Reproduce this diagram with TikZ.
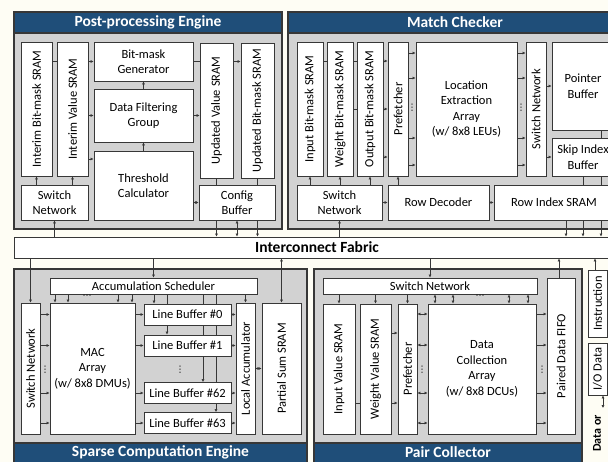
\documentclass[tikz,border=0pt]{standalone}
\usepackage{fontspec}
\setmainfont{Carlito}
\newfontfamily\dotfont{DejaVu Sans}
\usetikzlibrary{arrows.meta}
\definecolor{titleblue}{RGB}{31,78,121}
\definecolor{panelfill}{RGB}{210,210,210}
\definecolor{lineclr}{RGB}{55,55,55}
\definecolor{paper}{RGB}{254,253,244}
\pgfdeclarelayer{back}
\pgfdeclarelayer{wires}
\pgfsetlayers{back,wires,main}

\begin{document}
\begin{tikzpicture}[x=1pt,y=-1pt,
  >={Latex[length=3pt,width=3.2pt]},
  font=\fontsize{12.5}{15.5}\selectfont,
  box/.style={draw=lineclr, line width=0.9pt, fill=white, inner sep=1pt, align=center},
  vtext/.style={label={[rotate=90,inner sep=0pt]center:#1}},
  panel/.style={draw=lineclr, line width=1.2pt, fill=panelfill},
  bar/.style={draw=lineclr, line width=1.2pt, fill=titleblue},
  title/.style={text=white, font=\fontsize{15.5}{18}\selectfont\bfseries, inner sep=0pt},
  wire/.style={draw=lineclr, line width=0.8pt},
  dotv/.style={font=\dotfont\fontsize{9}{9}\selectfont, inner sep=0pt}]
\useasboundingbox (0,0) rectangle (608,462);

% panels
\begin{pgfonlayer}{back}
\fill[paper] (0,0) rectangle (608,462);
\draw[panel] (14,12) rectangle (282,229);
\draw[bar] (14,12) rectangle (282,33);
\draw[panel] (288,12) rectangle (622,229);
\draw[bar] (288,12) rectangle (622,33);
\draw[panel] (14,269) rectangle (307,470);
\draw[bar] (14,443) rectangle (307,470);
\draw[panel] (314,269) rectangle (582,470);
\draw[bar] (314,443) rectangle (582,470);
\end{pgfonlayer}
\node[title] (tppe) at (148,22.5) {Post-processing Engine};
\node[title] (tmc) at (455,22.5) {Match Checker};
\node[title] (tsce) at (160.5,452.5) {Sparse Computation Engine};
\node[title] (tpc) at (448,452.5) {Pair Collector};

\node[box, minimum width=606pt, minimum height=21pt, font=\fontsize{15.5}{18}\selectfont\bfseries] (icf) at (317,247.5) {Interconnect Fabric};

% post-processing engine
\node[box, minimum width=31pt, minimum height=134pt, vtext={Interim Bit-mask SRAM}] (ibm) at (36.5,109) {};
\node[box, minimum width=31pt, minimum height=134pt, vtext={Interim Value SRAM}] (ivs) at (72.5,109) {};
\node[box, minimum width=99pt, minimum height=39pt] (bmg) at (143.5,61.5) {Bit-mask\\Generator};
\node[box, minimum width=99pt, minimum height=53pt] (dfg) at (143.5,115.5) {Data Filtering\\Group};
\node[box, minimum width=99pt, minimum height=69pt] (thr) at (143.5,185.5) {Threshold\\Calculator};
\node[box, minimum width=33pt, minimum height=135pt, vtext={Updated Value SRAM}] (uvs) at (216.5,110.5) {};
\node[box, minimum width=33pt, minimum height=135pt, vtext={Updated Bit-mask SRAM}] (ubs) at (257.5,110.5) {};
\node[box, minimum width=67pt, minimum height=35pt] (psw) at (54.5,202.5) {Switch\\Network};
\node[box, minimum width=76pt, minimum height=35pt] (cfg) at (237,202.5) {Config\\Buffer};

% match checker
\node[box, minimum width=26pt, minimum height=134pt, vtext={Input Bit-mask SRAM}] (ibk) at (310,109) {};
\node[box, minimum width=26pt, minimum height=134pt, vtext={Weight Bit-mask SRAM}] (wbk) at (340,109) {};
\node[box, minimum width=26pt, minimum height=134pt, vtext={Output Bit-mask SRAM}] (obk) at (370,109) {};
\node[box, minimum width=20pt, minimum height=134pt, vtext={Prefetcher}] (mpf) at (398,109) {};
\node[box, minimum width=101pt, minimum height=134pt] (lea) at (466.5,109) {Location\\Extraction\\Array\\(w/ 8x8 LEUs)};
\node[box, minimum width=20pt, minimum height=134pt, vtext={Switch Network}] (msw) at (536,109) {};
\node[box, minimum width=62pt, minimum height=88pt] (ptr) at (583,86) {Pointer\\Buffer};
\node[box, minimum width=62pt, minimum height=38pt] (skp) at (583,157) {Skip Index\\Buffer};
\node[box, minimum width=85pt, minimum height=35pt] (msn) at (339.5,202.5) {Switch\\Network};
\node[box, minimum width=101pt, minimum height=35pt] (rdc) at (438.5,202.5) {Row Decoder};
\node[box, minimum width=120pt, minimum height=35pt] (ris) at (554,202.5) {Row Index SRAM};
\node[dotv] (mdl) at (412,108) {⋮};
\node[dotv] (mdr) at (521,108) {⋮};

% sparse computation engine
\node[box, minimum width=207pt, minimum height=16pt, inner sep=0pt] (acs) at (153.5,286) {Accumulation Scheduler};
\node[box, minimum width=19pt, minimum height=131pt, vtext={Switch Network}] (ssw) at (30.5,368.5) {};
\node[box, minimum width=85pt, minimum height=131pt] (mac) at (92.5,368.5) {MAC\\Array\\(w/ 8x8 DMUs)};
\node[box, minimum width=87pt, minimum height=21pt] (lb0) at (187.5,314.5) {Line Buffer \#0};
\node[box, minimum width=87pt, minimum height=21pt] (lb1) at (187.5,345.5) {Line Buffer \#1};
\node[box, minimum width=87pt, minimum height=21pt] (lb62) at (187.5,393) {Line Buffer \#62};
\node[box, minimum width=87pt, minimum height=21pt] (lb63) at (187.5,423) {Line Buffer \#63};
\node[box, minimum width=19pt, minimum height=131pt, vtext={Local Accumulator}] (lac) at (245.5,368.5) {};
\node[box, minimum width=39pt, minimum height=131pt, vtext={Partial Sum SRAM}] (pss) at (281.5,368.5) {};
\node[dotv] (sdl) at (45,370) {⋮};
\node[dotv] (sdm) at (180,370) {⋮};
\node[dotv] (sdt) at (87,297) {⋯};

% pair collector
\node[box, minimum width=214pt, minimum height=16pt, inner sep=0pt] (psn) at (430,286) {Switch Network};
\node[box, minimum width=28pt, minimum height=156pt, vtext={Paired Data FIFO}] (pdf) at (561,356) {};
\node[box, minimum width=32pt, minimum height=130pt, vtext={Input Value SRAM}] (ivl) at (339,369) {};
\node[box, minimum width=31pt, minimum height=130pt, vtext={Weight Value SRAM}] (wvl) at (375.5,369) {};
\node[box, minimum width=19pt, minimum height=130pt, vtext={Prefetcher}] (cpf) at (407.5,369) {};
\node[box, minimum width=108pt, minimum height=130pt] (dca) at (482,369) {Data\\Collection\\Array\\(w/ 8x8 DCUs)};
\node[dotv] (pdl) at (422,370) {⋮};
\node[dotv] (pdr) at (542,370) {⋮};
\node[dotv] (pdt) at (480,297) {⋯};

% right side
\node[box, minimum width=19pt, minimum height=67pt, vtext={Instruction}] (ins) at (597.5,303.5) {};
\node[box, minimum width=19pt, minimum height=52pt, vtext={I/O Data}] (iod) at (597.5,369) {};
\node[rotate=90, anchor=west, inner sep=0pt, font=\fontsize{12}{14}\selectfont\bfseries] (dor) at (597,452) {Data or};
\coordinate (ioext) at (603,408);

\begin{pgfonlayer}{wires}
% post-processing engine
\draw[->, wire] (psw.north -| ibm.south) -- (ibm.south);
\draw[->, wire] (psw.north -| ivs.south) -- (ivs.south);
\draw[->, wire] (ibm.east |- bmg.west) -- (bmg.west);
\draw[->, wire] (ivs.east |- dfg.west) -- (dfg.west);
\draw[->, wire] (ivs.east |- 0,159) -- (thr.west |- 0,159);
\draw[->, wire] (thr.north) -- (dfg.south);
\draw[->, wire] (dfg.north) -- (bmg.south);
\draw[->, wire] (bmg.east) -- (ubs.west |- bmg.east);
\draw[->, wire] (dfg.east) -- (uvs.west |- dfg.east);
\draw[<->, wire] (thr.east |- cfg.west) -- (cfg.west);
\draw[->, wire] (uvs.south) -- (uvs.south |- icf.north);
\draw[->, wire] (ubs.south) -- (ubs.south |- icf.north);
\draw[<->, wire] (cfg.south) -- (cfg.south |- icf.north);
\draw[->, wire] (icf.north -| psw.south) -- (psw.south);

% match checker
\foreach \n in {ibk,wbk,obk} \draw[->, wire] (msn.north -| \n.south) -- (\n.south);
\draw[->, wire] (rdc.north -| mpf.south) -- (mpf.south);
\draw[->, wire] (msn.east |- rdc.west) -- (rdc.west);
\draw[->, wire] (rdc.east) -- (ris.west |- rdc.east);
\draw[->, wire] (icf.north -| msn.south) -- (msn.south);
\draw[->, wire] (ibk.east |- 0,61) -- (mpf.west |- 0,61);
\draw[->, wire] (wbk.east) -- (mpf.west);
\draw[->, wire] (obk.east |- 0,157) -- (mpf.west |- 0,157);
\foreach \y in {53,78,138,165} {
  \draw[->, wire] (mpf.east |- 0,\y) -- (lea.west |- 0,\y);
  \draw[->, wire] (lea.east |- 0,\y) -- (msw.west |- 0,\y);
}
\draw[->, wire] (msw.east |- ptr.west) -- (ptr.west);
\draw[->, wire] (msw.east |- skp.west) -- (skp.west);
\draw[->, wire] ([xshift=18pt]ptr.south) -- ([xshift=18pt]ptr.south |- icf.north);
\draw[->, wire] (skp.south) -- (skp.south |- icf.north);
\draw[->, wire] ([xshift=12pt]ris.south) -- ([xshift=12pt]ris.south |- icf.north);

% sparse computation engine
\foreach \n in {lb0,lb1,lb62,lb63} {
  \draw[->, wire] (ssw.east |- \n.west) -- (mac.west |- \n.west);
  \draw[->, wire] (mac.east |- \n.west) -- (\n.west);
  \draw[->, wire] (\n.east) -- (lac.west |- \n.east);
}
\foreach \x in {55,68,118,132} \draw[->, wire] (acs.south -| \x,0) -- (mac.north -| \x,0);
\draw[->, wire] (acs.south -| 154,0) -- (lb0.north -| 154,0);
\draw[->, wire] (acs.south -| 167,0) -- (lb1.north -| 167,0);
\draw[->, wire] (acs.south -| 203,0) -- (lb62.north -| 203,0);
\draw[->, wire] (acs.south -| 216,0) -- (lb63.north -| 216,0);
\draw[->, wire] (acs.south -| lac.north) -- (lac.north);
\draw[->, wire] (icf.south -| ssw.north) -- (ssw.north);
\draw[->, wire] (icf.south -| acs.north) -- (acs.north);
\draw[<->, wire] (icf.south -| pss.north) -- (pss.north);
\draw[<->, wire] (lac.east) -- (pss.west);

% pair collector
\draw[->, wire] (icf.south -| psn.north) -- (psn.north);
\draw[->, wire] ([xshift=-2pt]pdf.north) -- ([xshift=-2pt]pdf.north |- icf.south);
\foreach \n in {ivl,wvl,cpf} \draw[->, wire] (psn.south -| \n.north) -- (\n.north);
\foreach \x in {435,453,509,528} \draw[<->, wire] (psn.south -| \x,0) -- (dca.north -| \x,0);
\draw[->, wire] (wvl.east |- 0,333) -- (cpf.west |- 0,333);
\draw[->, wire] (ivl.east |- 0,403) -- (cpf.west |- 0,403);
\foreach \y in {314,345,393,423} {
  \draw[<->, wire] (cpf.east |- 0,\y) -- (dca.west |- 0,\y);
  \draw[->, wire] (dca.east |- 0,\y) -- (pdf.west |- 0,\y);
}

% right side
\draw[->, wire] ([xshift=-2.5pt]ins.north) -- ([xshift=-2.5pt]ins.north |- icf.south);
\draw[<->, wire] (iod.south -| ioext) -- (ioext);
\end{pgfonlayer}
\end{tikzpicture}
\end{document}
